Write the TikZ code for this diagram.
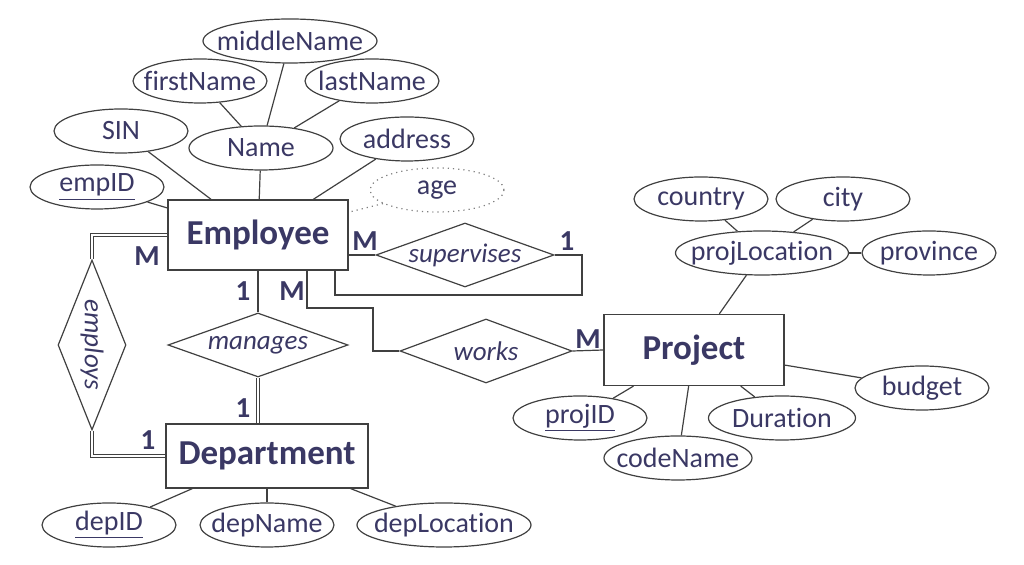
\documentclass[tikz,border=0pt]{standalone}
\usepackage{fontspec}
\setmainfont{Carlito}[Ligatures=NoCommon]
\usetikzlibrary{shapes.geometric}
\definecolor{erblue}{RGB}{58,56,100}
\begin{document}
\begin{tikzpicture}[x=0.5pt,y=-0.5pt,line width=0.6pt,draw=black!75,text=erblue,
    every label/.style={font=\fontsize{14}{16}\selectfont,inner sep=0pt}]
    \tikzstyle{attr}=[ellipse, draw=black!75, minimum width=67pt, minimum height=22pt, inner sep=0pt]
    \tikzstyle{derived}=[attr, draw=black!50, dotted]
    \tikzstyle{entity}=[rectangle, draw=black!75, minimum width=90pt, minimum height=35pt, font=\bfseries\fontsize{17.5}{20}\selectfont]
    \tikzstyle{rel}=[diamond, draw=black!75, inner sep=0pt, minimum width=89pt, minimum height=32pt]
    \tikzstyle{reltext}=[font=\itshape\fontsize{13.5}{16}\selectfont]
    \tikzstyle{card}=[font=\bfseries\fontsize{14.5}{16}\selectfont, inner sep=0pt]
    \tikzstyle{total}=[double, double distance=1pt, line width=0.5pt]

    \useasboundingbox (0,0) rectangle (1024,565);

    % Entities
    \node[entity] (employee) at (258,235) {Employee};
    \node[entity, minimum width=101pt, minimum height=32pt] (department) at (267,456) {Department};
    \node[entity, minimum height=35.5pt] (project) at (694,350) {Project};

    % Employee attributes
    \node[attr, minimum width=87pt, label=center:middleName] (midname) at (290,41) {};
    \node[attr, label=center:firstName] (firstname) at (200,81) {};
    \node[attr, label=center:lastName] (lastname) at (372,81) {};
    \node[attr, label=center:SIN] (sin) at (121,131) {};
    \node[attr, minimum width=72pt, label=center:Name] (name) at (261,148) {};
    \node[attr, label=center:address] (address) at (407,139) {};
    \node[attr, label=center:\underline{empID}] (empid) at (97,187) {};
    \node[derived, label=center:age] (age) at (437,190) {};

    \foreach \part in {firstname,midname,lastname}
      \draw (\part) -- (name);
    \foreach \a in {sin,name,address,empid}
      \draw (\a) -- (employee);
    \draw[dotted, draw=black!50] (age) -- (employee);

    % Project attributes
    \node[attr, minimum width=86.5pt, label=center:projLocation] (projloc) at (762,253) {};
    \node[attr, label=center:country] (country) at (701,199) {};
    \node[attr, label=center:city] (city) at (843,199) {};
    \node[attr, label=center:province] (province) at (929,253) {};
    \node[attr, label=center:budget] (budget) at (922,388) {};
    \node[attr, minimum width=73.5pt, label=center:Duration] (duration) at (782,418) {};
    \node[attr, label=center:\underline{projID}] (projid) at (580,418) {};
    \node[attr, minimum width=74pt, label=center:codeName] (codename) at (678,458) {};

    \foreach \part in {country,city,province}
      \draw (\part) -- (projloc);
    \foreach \a in {projloc,budget,duration,projid,codename}
      \draw (\a) -- (project);

    % Department attributes
    \node[attr, label=center:\underline{depID}] (depid) at (109,525) {};
    \node[attr, label=center:depName] (depname) at (267,525) {};
    \node[attr, minimum width=87pt, label=center:depLocation] (deploc) at (444,525) {};

    \foreach \a in {depid,depname,deploc}
      \draw (\a) -- (department);

    % Relationships
    \node[rel, label={[reltext]center:supervises}] (supervises) at (465,255) {};
    \node[rel, minimum width=90pt, label={[reltext]center:manages}] (manages) at (258,345) {};
    \node[rel, minimum width=86pt, label={[reltext]center:works}] (works) at (486,351) {};
    \node[rel, minimum width=34pt, minimum height=85pt, label={[reltext, rotate=-90]center:employs}] (employs) at (92,345) {};

    % supervises (recursive)
    \coordinate (loopcorner) at (582,295);
    \coordinate (supin) at (335,270);
    \draw (supervises.west) -- (supervises.west -| employee.east);
    \draw (supervises.east) -| (loopcorner) -| (supin);
    \node[card] (sup-m) at (365,241) {M};
    \node[card] (sup-1) at (567,241) {1};

    % manages
    \draw (employee.south -| manages.north) -- (manages.north);
    \draw[total] (manages.south) -- (manages.south |- department.north);
    \node[card] (man-1a) at (243,291) {1};
    \node[card] (man-1b) at (243,408) {1};

    % employs
    \draw[total] (employee.west) -| (employs.north);
    \draw[total] (employs.south) |- (department.west);
    \node[card] (emp-m) at (147,256) {M};
    \node[card] (emp-1) at (148,440) {1};

    % works
    \coordinate (worksout) at (307,270);
    \coordinate (worksbend) at (373,308);
    \draw (worksout) |- (worksbend) |- (works.west);
    \draw (works.east) -- (project.west);
    \node[card] (wrk-m1) at (292,291) {M};
    \node[card] (wrk-m2) at (588,339) {M};
\end{tikzpicture}
\end{document}
